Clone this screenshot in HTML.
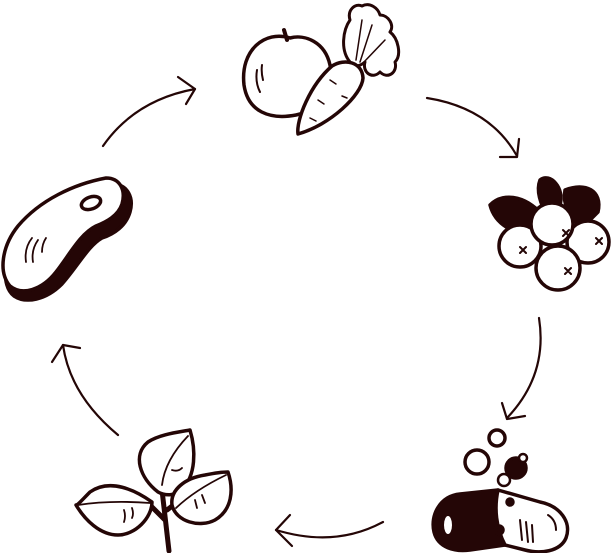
<!DOCTYPE html>
<html><head><style>html,body{margin:0;padding:0;background:#fff;width:615px;height:553px;overflow:hidden}</style></head>
<body>
<svg width="615" height="553" viewBox="0 0 615 553" xmlns="http://www.w3.org/2000/svg" fill="none" stroke="#240606" stroke-linecap="round" stroke-linejoin="round">
<!-- arrows -->
<g stroke-width="2.2">
<path d="M103 146 Q135 100 195 89"/><path d="M178 77 L195 89 L186 104"/>
<path d="M427 98 Q490 108 517 156"/><path d="M500 157 L517 157 L519 139"/>
<path d="M539 318 Q548 375 507 418"/><path d="M502 403 L507 419 L525 416"/>
<path d="M383 522 Q335 548 276 530"/><path d="M290 515 L276 530 L292 546"/>
<path d="M118 435 Q70 395 63 345"/><path d="M52 362 L63 345 L80 348"/>
</g>
<!-- apple -->
<g stroke-width="3.5">
<path d="M290 38 C265 30 240 50 244 85 C248 112 270 120 296 115 C320 110 334 90 330 65 C325 42 305 34 290 38Z" fill="#fff"/>
<path d="M287 40 L284 30" stroke-width="4"/>
<path d="M257 70 Q255 82 260 92 M262 65 Q261 72 263 80" stroke-width="2"/>
</g>
<!-- carrot top -->
<g stroke-width="3" fill="#fff">
<path d="M350 62 C340 50 343 30 350 20 C347 10 355 3 362 6 C370 2 378 8 380 15 C388 15 395 25 390 32 C398 38 402 55 395 62 C398 72 388 80 380 72 C372 80 362 72 365 62 C358 68 352 66 350 62Z"/>
<path d="M356 60 L362 20 M360 62 L372 25 M364 62 L385 40" stroke-width="1.5"/>
<path d="M332 66 C345 58 362 62 363 78 C362 95 330 125 298 134 C296 120 310 85 332 66Z" stroke-width="3.5"/>
<path d="M330 80 L336 84 M318 100 L324 104 M310 118 L316 121 M342 96 L347 98" stroke-width="1.5"/>
</g>
<!-- steak -->
<g stroke-width="3.5">
<path d="M14 296 C0 285 4 255 20 232 C42 207 78 190 112 184 C128 184 134 198 130 212 C126 226 114 234 102 238 C88 246 78 266 62 284 C46 300 26 304 14 296Z" fill="#240606"/>
<path d="M10 286 C-2 272 2 246 18 226 C40 200 74 184 106 178 C120 178 126 190 122 204 C118 216 106 222 96 226 C80 234 70 254 56 272 C42 290 22 296 10 286Z" fill="#fff"/>
<ellipse cx="91" cy="203" rx="10" ry="6" transform="rotate(-20 91 203)" stroke-width="3.5"/>
<path d="M26 262 Q24 248 32 238 M33 262 Q31 250 38 240 M42 252 Q42 244 46 238" stroke-width="1.8"/>
</g>
<!-- berries -->
<g stroke-width="3.5">
<path d="M490 205 C505 190 530 198 545 218 L535 235 C515 235 495 225 490 205Z" fill="#240606"/>
<path d="M540 180 C550 172 565 188 560 205 L548 215 C540 205 536 190 540 180Z" fill="#240606"/>
<path d="M565 190 C585 182 603 190 598 212 L582 228 C570 218 562 205 565 190Z" fill="#240606"/>
<circle cx="588" cy="242" r="21" fill="#fff"/>
<circle cx="520" cy="246" r="21" fill="#fff"/>
<circle cx="552" cy="224" r="21" fill="#fff"/>
<circle cx="558" cy="268" r="22" fill="#fff"/>
<path d="M563 230 l6 6 m0 -6 l-6 6 M520 247 l6 6 m0 -6 l-6 6 M596 238 l6 6 m0 -6 l-6 6 M565 268 l6 6 m0 -6 l-6 6" stroke-width="2"/>
</g>
<!-- capsule -->
<g stroke-width="3.5">
<path d="M498 490 L460 494 C440 496 430 515 434 532 C438 548 455 552 470 550 L505 545 Z" fill="#240606"/>
<path d="M498 490 L540 502 C560 506 572 522 566 538 C560 552 540 554 525 550 L505 545 C496 528 494 508 498 490Z" fill="#fff"/>
<ellipse cx="448" cy="525" rx="4" ry="9" fill="#fff" stroke="none"/>
<path d="M520 520 L522 540 M526 522 L528 542 M532 525 L533 542 M548 515 Q556 520 556 530" stroke-width="2"/>
<circle cx="510" cy="502" r="3" fill="#240606"/>
<circle cx="499" cy="530" r="4" fill="#240606"/>
<circle cx="497" cy="438" r="8" fill="#fff"/>
<circle cx="477" cy="462" r="12" fill="#fff"/>
<circle cx="516" cy="468" r="10" fill="#240606"/>
<circle cx="523" cy="458" r="4" fill="#fff" stroke-width="2.5"/>
<circle cx="504" cy="480" r="6" fill="#fff" stroke-width="2.5"/>
</g>
<!-- plant -->
<g stroke-width="3.5" fill="#fff">
<path d="M169 551 L162 490 M165 520 L150 505 M167 510 L180 500" stroke-width="5"/>
<path d="M158 492 C140 478 132 455 148 442 C160 434 180 432 190 430 C196 450 196 475 182 490 C175 496 165 496 158 492Z"/>
<path d="M152 502 C135 490 110 478 90 492 C82 500 78 505 76 505 C85 520 100 535 118 535 C135 535 152 518 152 502Z"/>
<path d="M172 505 C170 490 185 478 205 475 C215 473 225 472 228 472 C234 490 232 510 215 520 C200 528 176 522 172 505Z"/>
<path d="M188 436 Q165 460 162 485 M78 505 Q110 500 150 503 M226 475 Q195 490 176 508" stroke-width="1.8"/>
<path d="M172 470 Q178 472 182 468 M124 510 Q126 516 124 522 M132 508 Q134 514 132 518 M195 500 L197 508 M202 495 L205 503" stroke-width="1.8"/>
</g>
</svg>
</body></html>
